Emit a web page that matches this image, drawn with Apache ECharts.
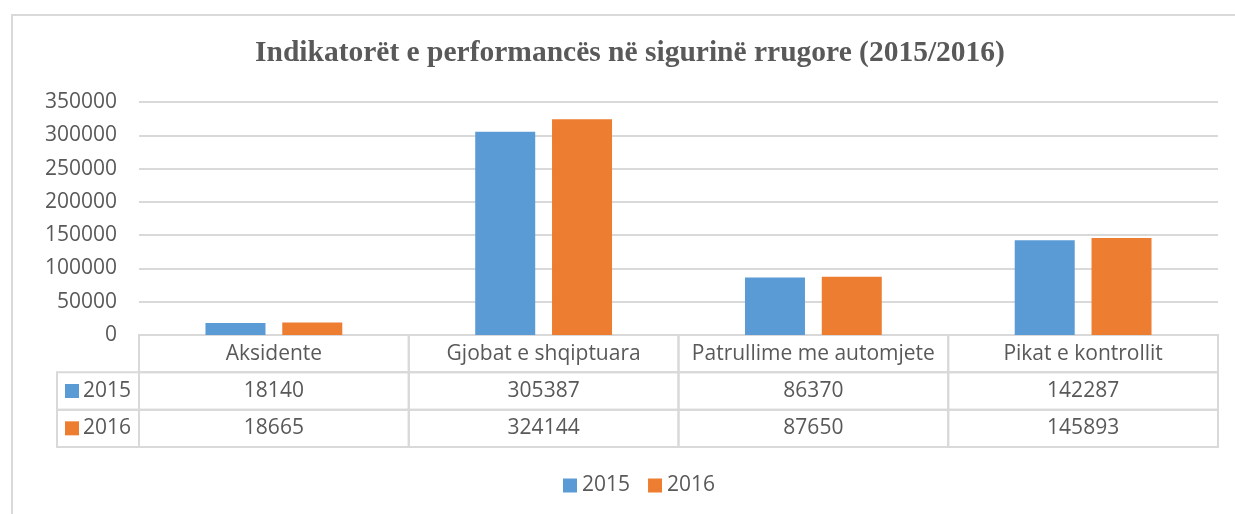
<!DOCTYPE html>
<html>
<head>
<meta charset="utf-8">
<script src="https://cdn.jsdelivr.net/npm/echarts@6/dist/echarts.min.js"></script>
<style>
  html, body { margin: 0; padding: 0; background: #fff; }
  #main { width: 1235px; height: 514px; }
  #frame { position: absolute; left: 11px; top: 14px; width: 1300px; height: 600px;
           border-left: 2px solid #d9d9d9; border-top: 2px solid #d9d9d9; pointer-events: none; }
</style>
</head>
<body>
<div id="main"></div>
<div id="frame"></div>
<script>
var categories = ['Aksidente', 'Gjobat e shqiptuara', 'Patrullime me automjete', 'Pikat e kontrollit'];
var years = ['2015', '2016'];
var values2015 = [18140, 305387, 86370, 142287];
var values2016 = [18665, 324144, 87650, 145893];
var colors = ['#5b9bd5', '#ed7d31'];
var yTicks = { min: 0, max: 350000, interval: 50000 };

var chart = echarts.init(document.getElementById('main'));
var textColor = '#595959';
var lineColor = '#d9d9d9';
var font = 'Open Sans';
var fontSize = 21;

// table cells: [category index, row, text]
var tableData = [];
for (var i = 0; i < categories.length; i++) {
    tableData.push([i, 0, categories[i]]);
    tableData.push([i, 1, String(values2015[i])]);
    tableData.push([i, 2, String(values2016[i])]);
}

var keyWidth = 82;

function renderCell(params, api) {
    var ci = api.value(0), row = api.value(1);
    var c = api.coord([ci, row]);
    var s = api.size([1, 1]);
    var x = c[0] - s[0] / 2, y = c[1] - s[1] / 2;
    var children = [{
        type: 'rect',
        shape: { x: x, y: y, width: s[0], height: s[1] },
        style: { fill: 'none', stroke: lineColor, lineWidth: 2 }
    }, {
        type: 'text',
        style: {
            x: c[0], y: c[1], text: tableData[params.dataIndex][2],
            align: 'center', verticalAlign: 'middle',
            fill: textColor, fontSize: fontSize, fontFamily: font
        }
    }];
    if (ci === 0 && row > 0) {
        children.push({
            type: 'rect',
            shape: { x: x - keyWidth, y: y, width: keyWidth, height: s[1] },
            style: { fill: 'none', stroke: lineColor, lineWidth: 2 }
        }, {
            type: 'rect',
            shape: { x: x - keyWidth + 8, y: c[1] - 7, width: 14, height: 14 },
            style: { fill: colors[row - 1] }
        }, {
            type: 'text',
            style: {
                x: x - keyWidth + 26, y: c[1], text: years[row - 1],
                align: 'left', verticalAlign: 'middle',
                fill: textColor, fontSize: fontSize, fontFamily: font
            }
        });
    }
    return { type: 'group', children: children };
}

var option = {
    animation: false,
    title: {
        text: 'Indikatorët e performancës në sigurinë rrugore (2015/2016)',
        left: 250,
        top: 33,
        textStyle: { fontFamily: 'Liberation Serif', fontWeight: 'bold', fontSize: 29.5, color: textColor }
    },
    legend: {
        data: years,
        bottom: 13,
        left: 558,
        icon: 'rect',
        itemWidth: 14,
        itemHeight: 14,
        itemGap: 18,
        textStyle: { fontFamily: font, fontSize: fontSize, color: textColor }
    },
    grid: [
        { left: 139, right: 17, top: 102, bottom: 179 },
        { left: 139, right: 17, top: 335, height: 112 }
    ],
    xAxis: [{
        type: 'category',
        data: categories,
        gridIndex: 0,
        axisLine: { lineStyle: { color: lineColor, width: 2 } },
        axisTick: { show: false },
        axisLabel: { show: false }
    }, {
        type: 'category',
        data: categories,
        gridIndex: 1,
        show: false
    }],
    yAxis: [{
        type: 'value',
        gridIndex: 0,
        min: yTicks.min,
        max: yTicks.max,
        interval: yTicks.interval,
        axisLine: { show: false },
        axisTick: { show: false },
        axisLabel: {
            color: textColor, fontSize: fontSize, fontFamily: font, margin: 22,
            formatter: function (v) { return String(v); }
        },
        splitLine: { lineStyle: { color: lineColor, width: 2 } }
    }, {
        type: 'category',
        data: ['', '2015', '2016'],
        gridIndex: 1,
        inverse: true,
        show: false
    }],
    series: [{
        name: years[0],
        type: 'bar',
        data: values2015,
        barWidth: 60,
        barGap: '28%',
        itemStyle: { color: colors[0] }
    }, {
        name: years[1],
        type: 'bar',
        data: values2016,
        barWidth: 60,
        barGap: '28%',
        itemStyle: { color: colors[1] }
    }, {
        type: 'custom',
        xAxisIndex: 1,
        yAxisIndex: 1,
        data: tableData.map(function (d) { return [d[0], d[1]]; }),
        renderItem: renderCell,
        silent: true
    }]
};
chart.setOption(option);
</script>
</body>
</html>
